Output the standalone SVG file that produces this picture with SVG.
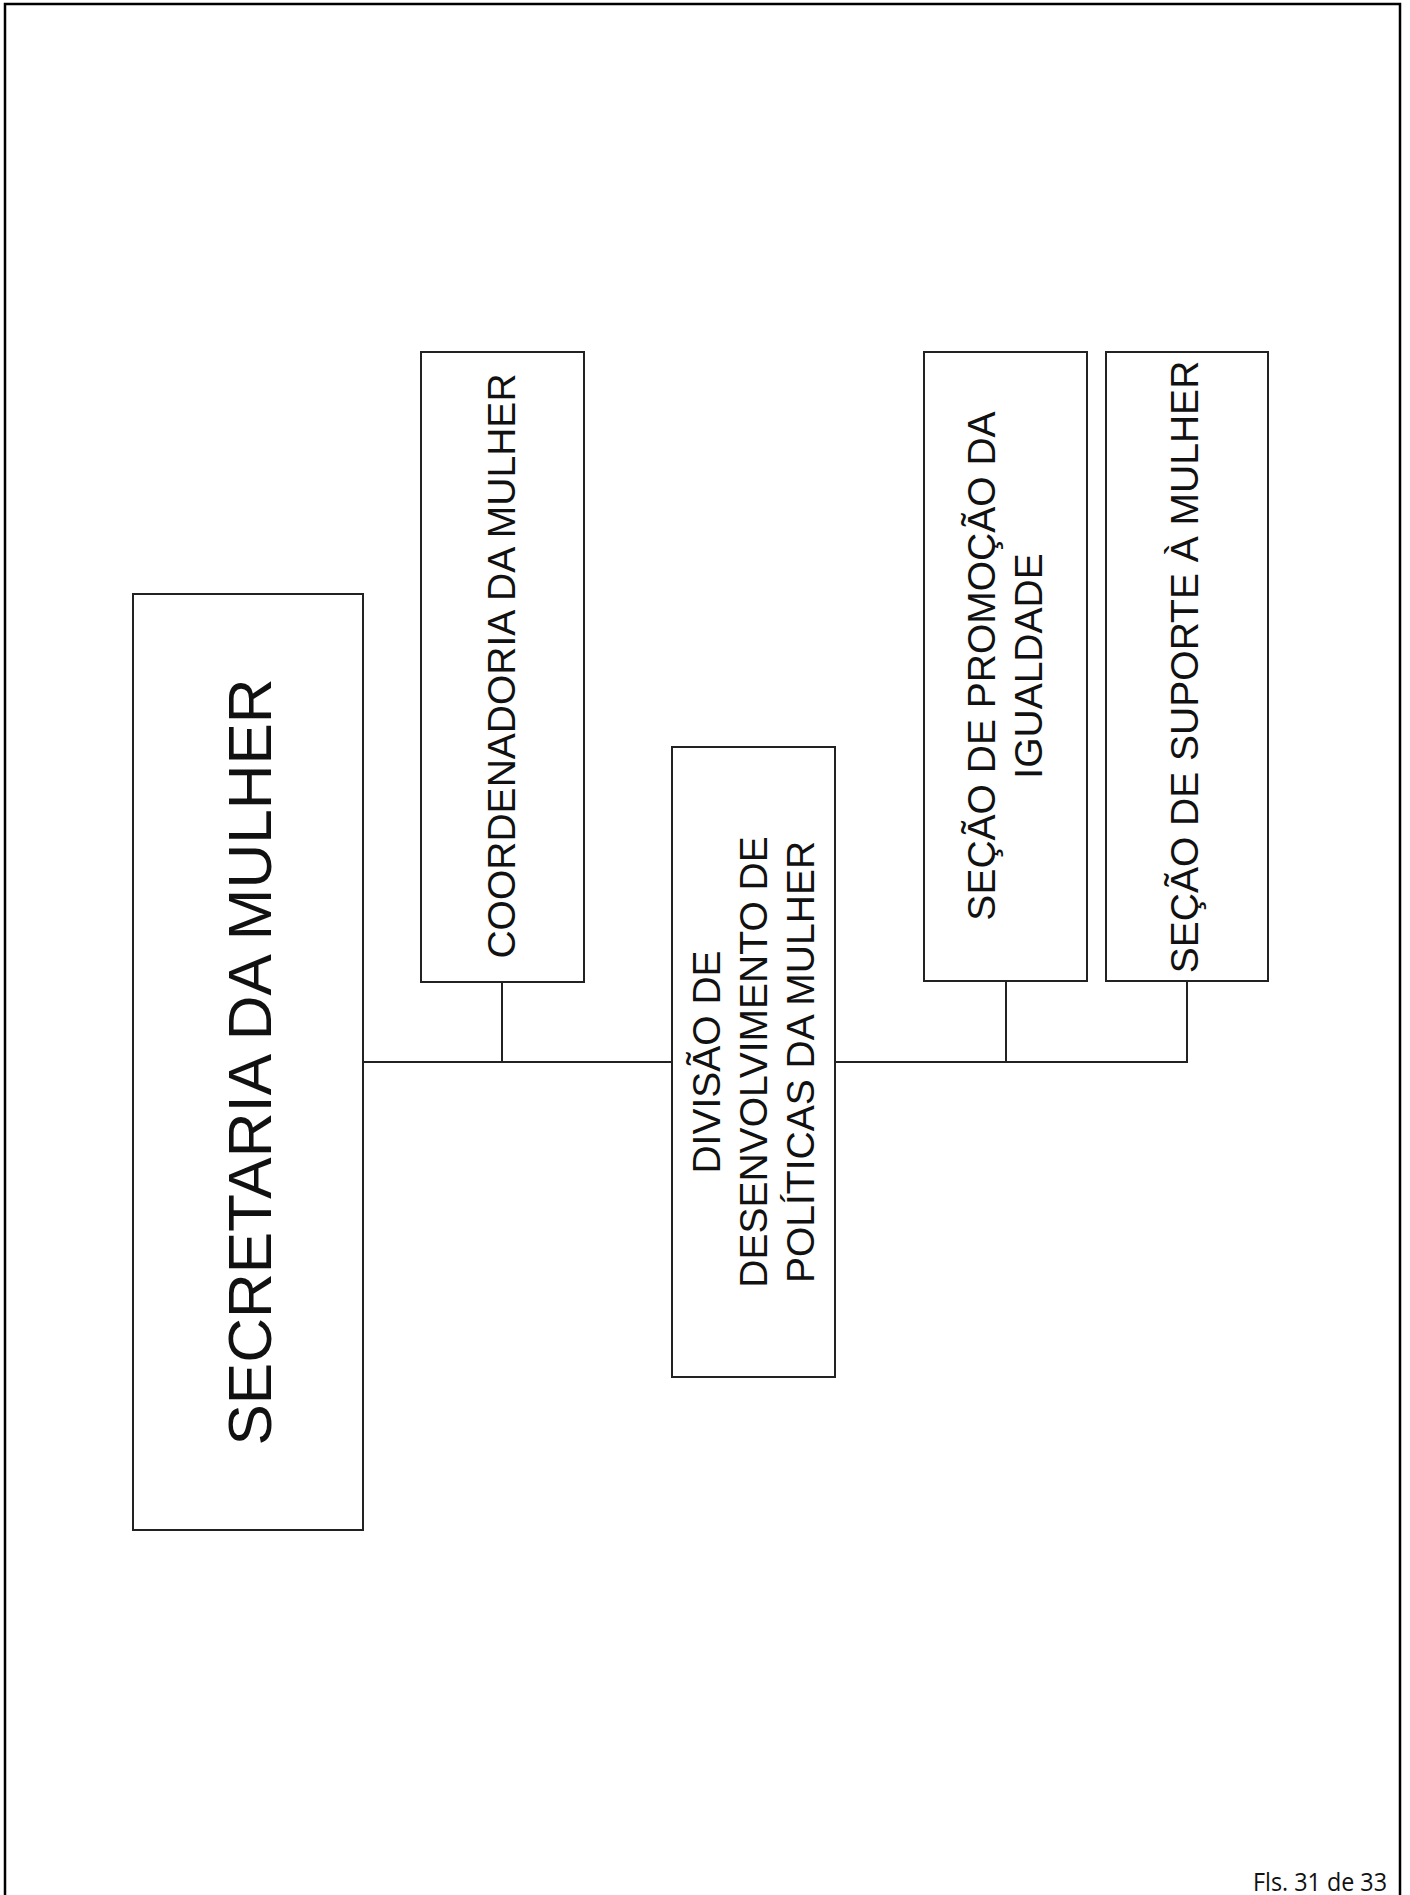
<svg xmlns="http://www.w3.org/2000/svg" width="1410" height="1895" viewBox="0 0 1410 1895">
<style>
.box{fill:#fff;stroke:#222;stroke-width:2}
.lbl{font-family:"Liberation Sans",Arial,sans-serif;font-size:39px;fill:#111;text-anchor:middle}
.big{font-size:62px}
.conn{stroke:#222;stroke-width:2;fill:none}
.foot{font-family:"Open Sans","Noto Sans",sans-serif;font-size:25px;fill:#111}
</style>
<rect width="1410" height="1895" fill="#fff"/>
<path d="M5,1895 V4 H1400 V1895" fill="none" stroke="#000" stroke-width="2.5"/>
<g id="connectors">
<path class="conn" d="M363,1062 H672"/>
<path class="conn" d="M835,1062 H1187 V981"/>
<path class="conn" d="M502,982 V1062"/>
<path class="conn" d="M1006,981 V1062"/>
</g>
<g id="secretaria">
<rect class="box" x="133" y="594" width="230" height="936"/>
<text class="lbl big" transform="translate(271,1062) rotate(-90)">SECRETARIA DA MULHER</text>
</g>
<g id="coordenadoria">
<rect class="box" x="421" y="352" width="163" height="630"/>
<text class="lbl" transform="translate(515,666) rotate(-90)">COORDENADORIA DA MULHER</text>
</g>
<g id="divisao">
<rect class="box" x="672" y="747" width="163" height="630"/>
<text class="lbl" transform="translate(720,1062) rotate(-90)">DIVISÃO DE</text>
<text class="lbl" transform="translate(767,1062) rotate(-90)">DESENVOLVIMENTO DE</text>
<text class="lbl" transform="translate(814,1062) rotate(-90)">POLÍTICAS DA MULHER</text>
</g>
<g id="secao-promocao">
<rect class="box" x="924" y="352" width="163" height="629"/>
<text class="lbl" transform="translate(995,666) rotate(-90)">SEÇÃO DE PROMOÇÃO DA</text>
<text class="lbl" transform="translate(1042,666) rotate(-90)">IGUALDADE</text>
</g>
<g id="secao-suporte">
<rect class="box" x="1106" y="352" width="162" height="629"/>
<text class="lbl" transform="translate(1198,667) rotate(-90)">SEÇÃO DE SUPORTE À MULHER</text>
</g>
<text class="foot" x="1253" y="1891" textLength="134" lengthAdjust="spacingAndGlyphs">Fls. 31 de 33</text>
</svg>
